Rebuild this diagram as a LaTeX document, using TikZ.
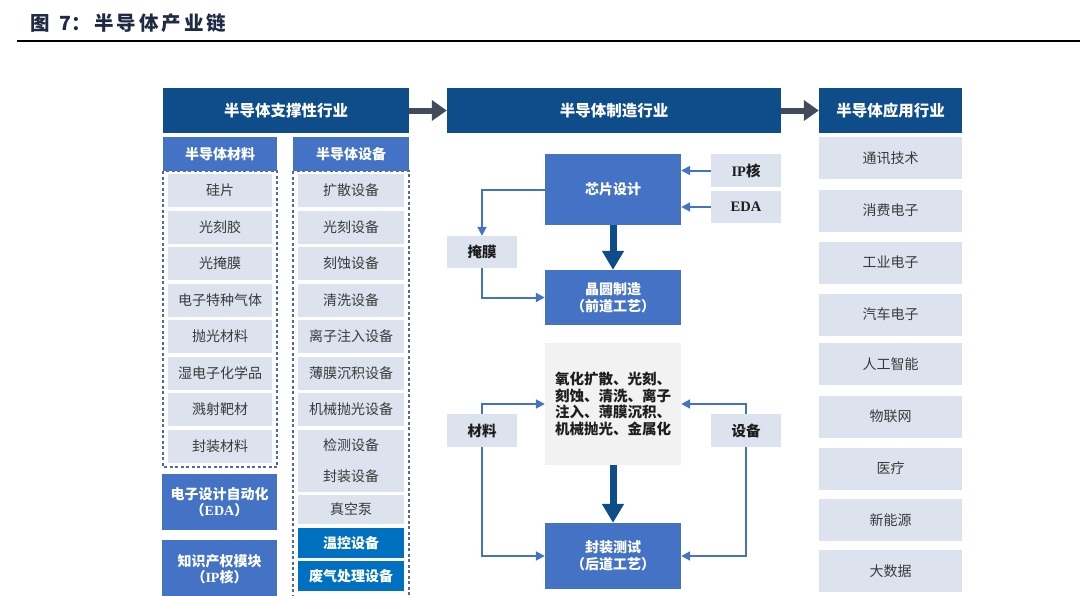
\documentclass[tikz,border=0pt]{standalone}
\usepackage{fontspec}
\setmainfont{Noto Sans CJK SC}
\newfontfamily\latserif{Liberation Serif}
\usetikzlibrary{arrows.meta}
\definecolor{hdr}{HTML}{0F4C8A}
\definecolor{midblue}{HTML}{4472C4}
\definecolor{brightblue}{HTML}{0070C0}
\definecolor{lightbox}{HTML}{DCE3EF}
\definecolor{graybox}{HTML}{F2F2F2}
\definecolor{itemtxt}{HTML}{3A3A3A}
\definecolor{darktxt}{HTML}{1E1E1E}
\definecolor{garrow}{HTML}{414B5A}
\definecolor{dashc}{HTML}{4F6A9C}
\definecolor{titlec}{HTML}{1F2A44}
\tikzset{
  hdrbox/.style={fill=hdr, text=white, font=\fontsize{15.5}{18}\selectfont\bfseries, inner sep=0, minimum height=45},
  subhdr/.style={fill=midblue, text=white, font=\fontsize{14}{16}\selectfont\bfseries, inner sep=0, minimum height=34},
  item/.style={fill=lightbox, text=itemtxt, font=\fontsize{14}{16}\selectfont, inner sep=0, minimum width=104, minimum height=33},
  eqitem/.style={item, minimum width=106},
  blueitem/.style={fill=brightblue, text=white, font=\fontsize{14}{16}\selectfont\bfseries, inner sep=0, minimum width=106, minimum height=30},
  bluebox/.style={fill=midblue, text=white, font=\fontsize{14}{17}\selectfont\bfseries, inner sep=0, align=center},
  appitem/.style={fill=lightbox, text=itemtxt, font=\fontsize{14}{16}\selectfont, inner sep=0, minimum width=143, minimum height=42},
  tagbox/.style={fill=lightbox, text=darktxt, font=\fontsize{14.5}{16}\selectfont\bfseries, inner sep=0, minimum width=70, minimum height=33},
  dashframe/.style={draw=dashc, line width=1.1pt, dash pattern=on 3pt off 2.5pt},
  conn/.style={draw=midblue, line width=2pt, -{Triangle[length=9pt,width=9pt]}},
  bigarrow/.style={draw=hdr, line width=7pt, -{Triangle[length=19pt,width=21pt]}},
  grayarrow/.style={draw=garrow, line width=6pt, -{Triangle[length=15pt,width=20pt]}},
}
\begin{document}
\begin{tikzpicture}[x=1pt,y=-1pt]
\useasboundingbox (0,0) rectangle (1080,595);
% title
\node[anchor=west, inner sep=0, text=titlec, font=\fontsize{19.5}{21}\selectfont\bfseries] (title) at (30,23)
  {图\hspace{10pt}7\hspace{0pt}：\hspace{3pt}半\hspace{3pt}导\hspace{3pt}体\hspace{3pt}产\hspace{3pt}业\hspace{3pt}链};
\coordinate (rl) at (17,41);
\coordinate (rr) at (1080,41);
\draw[line width=1.4pt, black] (rl) -- (rr);

% headers
\node[hdrbox, minimum width=246] (h1) at (286,110.5) {半导体支撑性行业};
\node[hdrbox, minimum width=334] (h2) at (614,110.5) {半导体制造行业};
\node[hdrbox, minimum width=143] (h3) at (890.5,110.5) {半导体应用行业};
\draw[grayarrow] (h1.east) -- (h2.west);
\draw[grayarrow] (h2.east) -- (h3.west);

% left: materials
\draw[dashframe] (163,171) rectangle (277,467);
\node[subhdr, minimum width=114] (mh) at (220,154) {半导体材料};
\node[item] (m1) at (220,190.5) {硅片};
\node[item] (m2) at (220,227.5) {光刻胶};
\node[item] (m3) at (220,263.5) {光掩膜};
\node[item] (m4) at (220,300) {电子特种气体};
\node[item] (m5) at (220,336.5) {抛光材料};
\node[item] (m6) at (220,373.5) {湿电子化学品};
\node[item] (m7) at (220,409.5) {溅射靶材};
\node[item] (m8) at (220,446.5) {封装材料};

\node[bluebox, minimum width=115, minimum height=56] (eda) at (219.5,502)
  {电子设计自动化\\[-1pt]（{\latserif\bfseries EDA}）};
\node[bluebox, minimum width=115, minimum height=58] (ipb) at (219.5,569)
  {知识产权模块\\[-1pt]（{\latserif\bfseries IP}核）};

% left: equipment
\draw[dashframe] (293,171) rectangle (409,600);
\node[subhdr, minimum width=116] (eh) at (351,154) {半导体设备};
\node[eqitem] (e1) at (351,190.5) {扩散设备};
\node[eqitem] (e2) at (351,227.5) {光刻设备};
\node[eqitem] (e3) at (351,263.5) {刻蚀设备};
\node[eqitem] (e4) at (351,300) {清洗设备};
\node[eqitem] (e5) at (351,336.5) {离子注入设备};
\node[eqitem] (e6) at (351,373.5) {薄膜沉积设备};
\node[eqitem] (e7) at (351,409.5) {机械抛光设备};
\node[eqitem, minimum height=62, align=center, font=\fontsize{14}{31}\selectfont] (e8) at (351,461) {检测设备\\封装设备};
\node[eqitem, minimum height=29] (e9) at (351,509.5) {真空泵};
\node[blueitem] (e10) at (351,543) {温控设备};
\node[blueitem] (e11) at (351,576) {废气处理设备};

% middle: manufacturing
\node[bluebox, minimum width=136, minimum height=71] (xin) at (613,189.5) {芯片设计};
\node[tagbox] (ip) at (746,170.5) {{\latserif\bfseries IP}核};
\node[tagbox, minimum height=32] (edat) at (746,207) {{\latserif\bfseries EDA}};
\node[tagbox, minimum height=32] (mask) at (482,252) {掩膜};
\node[bluebox, minimum width=136, minimum height=55] (wafer) at (613,297.5) {晶圆制造\\（前道工艺）};

\draw[conn] (ip.west) -- (ip.west -| xin.east);
\draw[conn] (edat.west) -- (edat.west -| xin.east);
\draw[conn] (xin.west) -| (mask.north);
\draw[conn] (mask.south) |- (wafer.west);
\draw[bigarrow] (xin.south) -- (wafer.north);

\node[fill=graybox, text=darktxt, inner sep=0, minimum width=136, minimum height=122, align=left,
      font=\fontsize{14.5}{16.5}\selectfont\bfseries] (proc) at (613,404)
  {氧化扩散、光刻、\\刻蚀、清洗、离子\\注入、薄膜沉积、\\机械抛光、金属化};
\node[tagbox] (cl) at (482,430.5) {材料};
\node[tagbox] (sb) at (746,430.5) {设备};
\node[bluebox, minimum width=136, minimum height=66] (pkg) at (613,556) {封装测试\\（后道工艺）};

\draw[conn] (cl.north) |- (proc.west);
\draw[conn] (cl.south) |- (pkg.west);
\draw[conn] (sb.north) |- (proc.east);
\draw[conn] (sb.south) |- (pkg.east);
\draw[bigarrow] (proc.south) -- (pkg.north);

% right: applications
\node[appitem] (a1) at (890.5,158) {通讯技术};
\node[appitem] (a2) at (890.5,210.5) {消费电子};
\node[appitem] (a3) at (890.5,262.5) {工业电子};
\node[appitem] (a4) at (890.5,314.5) {汽车电子};
\node[appitem] (a5) at (890.5,364) {人工智能};
\node[appitem] (a6) at (890.5,416.5) {物联网};
\node[appitem] (a7) at (890.5,468.5) {医疗};
\node[appitem] (a8) at (890.5,520) {新能源};
\node[appitem] (a9) at (890.5,571) {大数据};
\end{tikzpicture}
\end{document}
